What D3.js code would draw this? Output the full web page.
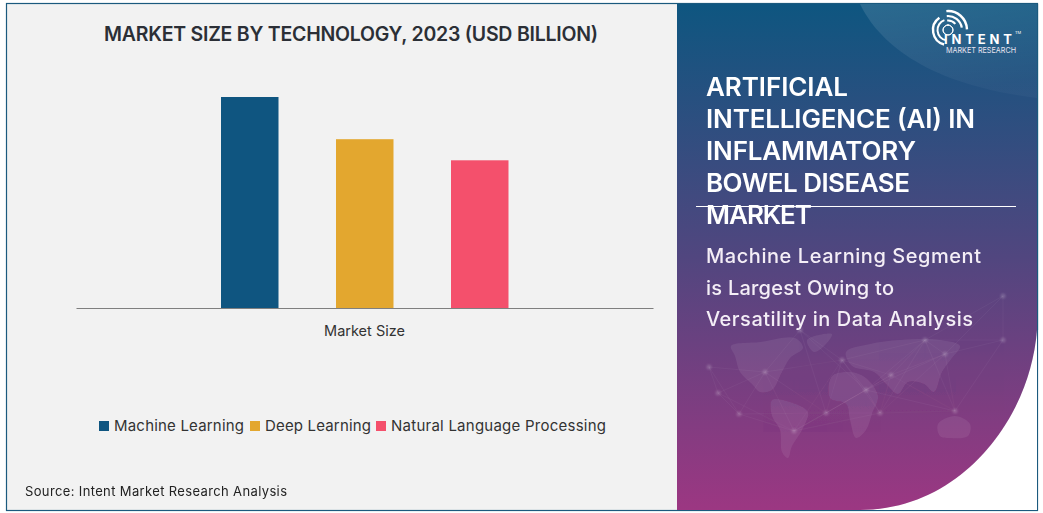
<!DOCTYPE html>
<html><head><meta charset="utf-8">
<script src="https://cdn.jsdelivr.net/npm/d3@7/dist/d3.min.js"></script>
<style>html,body{margin:0;padding:0;background:#fff;overflow:hidden}svg{display:block}text{font-family:Inter,"Open Sans",sans-serif}</style>
</head><body><svg id="c" width="1043" height="513"></svg>
<script>
const category = ["Market Size"];
const seriesNames = ["Machine Learning", "Deep Learning", "Natural Language Processing"];
const seriesValues = [1.0, 0.8, 0.7];
const seriesColors = ["#0f5580", "#e3a72f", "#f4506c"];
const chartTitle = "MARKET SIZE BY TECHNOLOGY, 2023 (USD BILLION)";
const panelTitle = ["ARTIFICIAL", "INTELLIGENCE (AI) IN", "INFLAMMATORY", "BOWEL DISEASE", "MARKET"];
const panelTitleWidths = [142, 269, 210, 204, 106];
const panelSub = ["Machine Learning Segment", "is Largest Owing to", "Versatility in Data Analysis"];
const panelSubWidths = [275, 188, 267];
const source = "Source: Intent Market Research Analysis";

const svg = d3.select("#c");
const defs = svg.append("defs");
const g = defs.append("linearGradient").attr("id","pg").attr("x1",0).attr("y1",0).attr("x2",0).attr("y2",1);
g.append("stop").attr("offset","0%").attr("stop-color","#0e5680");
g.append("stop").attr("offset","50%").attr("stop-color","#51467f");
g.append("stop").attr("offset","100%").attr("stop-color","#9c3782");
const sheen = defs.append("linearGradient").attr("id","sh").attr("x1",0).attr("y1",0).attr("x2",0.3).attr("y2",1);
sheen.append("stop").attr("offset","0%").attr("stop-color","#fff").attr("stop-opacity",0.12);
sheen.append("stop").attr("offset","100%").attr("stop-color","#fff").attr("stop-opacity",0.03);
defs.append("filter").attr("id","soft").append("feGaussianBlur").attr("stdDeviation",1.2);

const panelPath = "M677,4 H1037 V330 C1030,420 960,510 860,510 H677 Z";
defs.append("clipPath").attr("id","pc").append("path").attr("d",panelPath);

// frame
svg.append("rect").attr("x",6.5).attr("y",3.5).attr("width",1031).attr("height",507)
  .attr("fill","#f2f2f2").attr("stroke","#1b5a7e").attr("stroke-width",1.2);
svg.append("path").attr("d","M860,510 C960,510 1030,420 1037,330 V510 Z").attr("fill","#fff");
svg.append("path").attr("d","M677,510.5 H860 M1037.5,4 V330").attr("fill","none").attr("stroke","#1b5a7e").attr("stroke-width",1.2);

// panel
svg.append("path").attr("d",panelPath).attr("fill","url(#pg)");
const deco = svg.append("g").attr("clip-path","url(#pc)");
deco.append("path").attr("d","M860,4 C880,45 930,85 1037,98 V4 Z").attr("fill","url(#sh)");

// faint world map decoration
const land = [
 [[731,346],[760,342],[795,338],[803,348],[790,358],[782,372],[772,390],[760,392],[752,384],[740,372],[735,356]],
 [[807,340],[832,334],[826,344],[814,352]],
 [[772,400],[790,402],[808,412],[802,430],[792,446],[788,458],[782,452],[780,430],[772,416]],
 [[832,376],[850,372],[866,378],[878,396],[872,414],[866,430],[856,438],[850,420],[846,404],[830,398]],
 [[846,352],[870,344],[900,340],[940,340],[960,346],[952,358],[942,372],[934,392],[924,384],[908,382],[898,394],[886,384],[874,372],[852,366]],
 [[938,424],[955,416],[970,424],[968,436],[950,438],[940,436]]];
const blob = d3.line().curve(d3.curveCatmullRomClosed.alpha(0.5));
deco.append("g").selectAll("path").data(land).join("path").attr("d",d=>blob(d)).attr("fill","#fff").attr("opacity",0.075);
const hubs = [[709,367],[718,393],[739,414],[765,372],[794,431],[826,413],[842,360],[891,375],[880,413],[955,411],[945,354],[1003,340],[1003,296],[925,340],[866,390],[800,330]];
const links = hubs.flatMap((a,i)=>hubs.slice(i+1).filter(b=>Math.hypot(a[0]-b[0],a[1]-b[1])<95).map(b=>[a,b]));
deco.append("g").selectAll("line").data(links).join("line")
  .attr("x1",d=>d[0][0]).attr("y1",d=>d[0][1]).attr("x2",d=>d[1][0]).attr("y2",d=>d[1][1])
  .attr("stroke","#fff").attr("stroke-width",0.5).attr("opacity",0.08);
deco.append("g").attr("filter","url(#soft)").selectAll("circle").data(hubs).join("circle")
  .attr("cx",d=>d[0]).attr("cy",d=>d[1]).attr("r",2.5).attr("fill","#fff").attr("opacity",0.18);

// chart
const x0 = d3.scaleBand().domain(category).range([76,653]);
const x1 = d3.scaleBand().domain(seriesNames).range([163.5,566]).padding(0.5);
const y = d3.scaleLinear().domain([0,1]).range([308,97]);

svg.append("g").selectAll("rect").data(seriesNames).join("rect")
  .attr("x",d=>x1(d)).attr("width",x1.bandwidth())
  .attr("y",(d,i)=>y(seriesValues[i])).attr("height",(d,i)=>y(0)-y(seriesValues[i]))
  .attr("fill",(d,i)=>seriesColors[i]);

const ax = svg.append("g").attr("transform","translate(0,308)").call(d3.axisBottom(x0).tickSize(0).tickPadding(18));
ax.select(".domain").attr("stroke","#7f7f7f").attr("stroke-width",1);
ax.selectAll("text").attr("font-size",14.5).attr("fill","#333").style("font-family","Inter");

svg.append("text").attr("x",104).attr("y",41).attr("font-size",19.5).attr("font-weight",600).attr("fill","#2b2f36")
  .attr("textLength",494).attr("lengthAdjust","spacing").text(chartTitle);

// legend
const legendX = [99,250,376], legendW = [130,106,215];
const lg = svg.append("g").selectAll("g").data(seriesNames).join("g").attr("transform",(d,i)=>`translate(${legendX[i]},421)`);
lg.append("rect").attr("width",10).attr("height",10).attr("fill",(d,i)=>seriesColors[i]);
lg.append("text").attr("x",15).attr("y",10).attr("font-size",15).attr("fill","#333")
  .attr("textLength",(d,i)=>legendW[i]).attr("lengthAdjust","spacing").text(d=>d);

svg.append("text").attr("x",25).attr("y",496).attr("font-size",13).attr("fill","#222")
  .attr("textLength",262).attr("lengthAdjust","spacing").text(source);

// panel text
svg.append("g").selectAll("text").data(panelTitle).join("text")
  .attr("x",706).attr("y",(d,i)=>96+i*32).attr("font-size",26).attr("font-weight",600).attr("fill","#fff")
  .attr("textLength",(d,i)=>panelTitleWidths[i]).attr("lengthAdjust","spacing").text(d=>d);
svg.append("line").attr("x1",696).attr("x2",1016).attr("y1",206.5).attr("y2",206.5).attr("stroke","#fff").attr("stroke-width",1);
svg.append("g").selectAll("text").data(panelSub).join("text")
  .attr("x",706).attr("y",(d,i)=>263+i*31.5).attr("font-size",20).attr("font-weight",500).attr("fill","#f4eef6")
  .attr("textLength",(d,i)=>panelSubWidths[i]).attr("lengthAdjust","spacing").text(d=>d);

// logo
const logo = svg.append("g").attr("transform","translate(948,30)").attr("fill","none").attr("stroke","#fff").attr("stroke-linecap","round");
const arc = d3.arc();
const D = Math.PI/180;
const logoArcs = [[19,2.4,-5,88],[14,2.2,-5,80],[9.5,2,-5,50],[15,2.4,-35,-165],[10.5,2,-20,-170],[5,1,0,360]];
logo.selectAll("path").data(logoArcs).join("path")
  .attr("stroke-width",d=>d[1])
  .attr("d",d=>arc({innerRadius:d[0],outerRadius:d[0],startAngle:d[2]*D,endAngle:d[3]*D}));
svg.append("text").attr("x",944).attr("y",44).attr("font-size",13).attr("font-weight",700).attr("fill","#fff")
  .attr("textLength",68).attr("lengthAdjust","spacing").text("INTENT");
svg.append("text").attr("x",1015).attr("y",34).attr("font-size",4).attr("fill","#fff").text("TM");
svg.append("text").attr("x",946).attr("y",53).attr("font-size",8).attr("fill","#e8e4f0")
  .attr("textLength",70).attr("lengthAdjust","spacingAndGlyphs").text("MARKET RESEARCH");
</script></body></html>
